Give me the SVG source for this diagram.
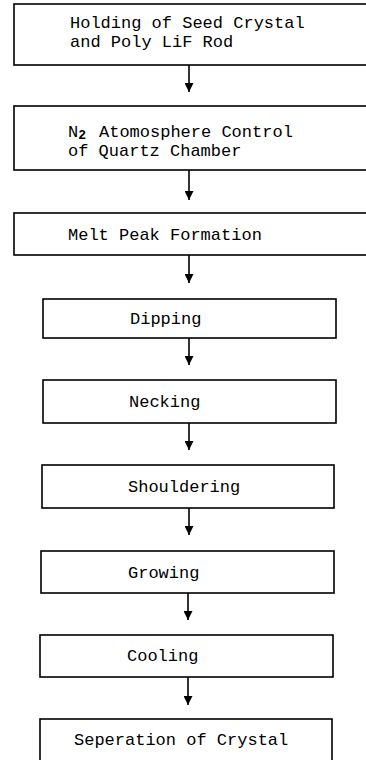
<svg xmlns="http://www.w3.org/2000/svg" width="366" height="760" viewBox="0 0 366 760">
  <defs>
    <!-- solid downward arrowhead, tip at the end of the line -->
    <marker id="arrow" markerWidth="9" markerHeight="9" refX="9" refY="4.5" orient="auto" markerUnits="userSpaceOnUse" viewBox="0 0 9 9">
      <path d="M0,0 L9,4.5 L0,9 Z" fill="#000"/>
    </marker>
  </defs>
  <style>
    .box { fill: #fff; stroke: #000; stroke-width: 1.6; }
    .lbl { font-family: "Liberation Mono", "DejaVu Sans Mono", monospace; font-size: 17px; fill: #000; }
    .sub { font-size: 13px; font-weight: bold; }
    .conn { stroke: #000; stroke-width: 1.6; fill: none; }
  </style>
  <rect width="366" height="760" fill="#fff"/>

  <g id="holding">
    <rect class="box" x="14" y="4" width="360" height="61"/>
    <text class="lbl" x="70" y="28">Holding of Seed Crystal</text>
    <text class="lbl" x="70" y="47">and Poly LiF Rod</text>
  </g>

  <g id="atmosphere">
    <rect class="box" x="14" y="106" width="360" height="64"/>
    <text class="lbl" x="68" y="137">N<tspan class="sub" dy="2">2</tspan><tspan x="99" dy="-2">Atomosphere Control</tspan></text>
    <text class="lbl" x="68" y="156">of Quartz Chamber</text>
  </g>

  <g id="melt-peak">
    <rect class="box" x="14" y="213" width="360" height="42"/>
    <text class="lbl" x="68" y="240">Melt Peak Formation</text>
  </g>

  <g id="dipping">
    <rect class="box" x="43" y="299" width="293" height="39"/>
    <text class="lbl" x="130" y="324">Dipping</text>
  </g>

  <g id="necking">
    <rect class="box" x="43" y="380" width="293" height="43"/>
    <text class="lbl" x="129" y="407">Necking</text>
  </g>

  <g id="shouldering">
    <rect class="box" x="42" y="465" width="292" height="43"/>
    <text class="lbl" x="128" y="492">Shouldering</text>
  </g>

  <g id="growing">
    <rect class="box" x="41" y="551" width="293" height="42"/>
    <text class="lbl" x="128" y="578">Growing</text>
  </g>

  <g id="cooling">
    <rect class="box" x="40" y="635" width="293" height="42"/>
    <text class="lbl" x="127" y="661">Cooling</text>
  </g>

  <g id="separation">
    <rect class="box" x="40" y="719" width="292" height="50"/>
    <text class="lbl" x="74" y="745">Seperation of Crystal</text>
  </g>

  <g id="connectors">
    <line class="conn" x1="189" y1="65" x2="189" y2="92" marker-end="url(#arrow)"/>
    <line class="conn" x1="189" y1="170" x2="189" y2="200" marker-end="url(#arrow)"/>
    <line class="conn" x1="189" y1="255" x2="189" y2="283" marker-end="url(#arrow)"/>
    <line class="conn" x1="189" y1="338" x2="189" y2="365" marker-end="url(#arrow)"/>
    <line class="conn" x1="189" y1="423" x2="189" y2="450" marker-end="url(#arrow)"/>
    <line class="conn" x1="189" y1="508" x2="189" y2="535" marker-end="url(#arrow)"/>
    <line class="conn" x1="188" y1="593" x2="188" y2="620" marker-end="url(#arrow)"/>
    <line class="conn" x1="188" y1="677" x2="188" y2="705" marker-end="url(#arrow)"/>
  </g>
</svg>
